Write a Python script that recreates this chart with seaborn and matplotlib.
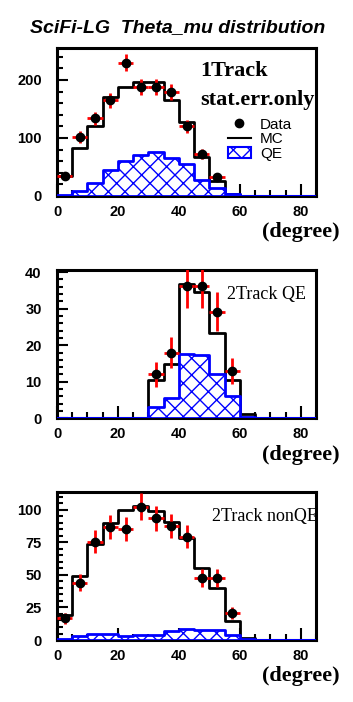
import numpy as np
import pandas as pd
import seaborn as sns
import matplotlib.pyplot as plt
from matplotlib.lines import Line2D
from matplotlib.patches import Patch
from matplotlib.ticker import MultipleLocator

# bins of theta_mu (degree)
edges = np.arange(0, 90, 5)
centers = edges[:-1] + 2.5

# 1 Track
data1 = [35, 102, 134, 165, 230, 188, 188, 179, 120, 72, 32]
mc1 = [34, 82, 121, 170, 188, 197, 196, 165, 127, 68, 25, 4, 0, 0, 0, 0, 0]
qe1 = [1, 9, 23, 45, 61, 71, 76, 66, 55, 28, 13, 3, 0, 0, 0, 0, 0]

# 2 Track QE
data2 = [12, 18, 36.2, 36.2, 29.2, 13]
data2_x = [32.5, 37.5, 42.5, 47.5, 52.5, 57.5]
mc2 = [0, 0, 0, 0, 0, 0, 10.5, 14.8, 36.7, 34.5, 23.4, 10.5, 1.2, 0, 0, 0, 0]
qe2 = [0, 0, 0, 0, 0, 0, 3.2, 5.6, 17.6, 17.3, 12.1, 6.2, 0.3, 0, 0, 0, 0]

# 2 Track nonQE
data3 = [16.7, 44, 75.6, 87, 85.4, 102.5, 93.6, 87.7, 79.5, 47.4, 47.4, 20.5]
mc3 = [19.2, 49.2, 73.6, 89.7, 100, 103.3, 99.5, 91, 78.2, 55.6, 39.7, 14.9, 1.5, 0, 0, 0, 0]
qe3 = [1, 3.3, 4.6, 4.6, 3, 3.8, 3.8, 6.9, 8.5, 7.4, 7.4, 4, 0.5, 0, 0, 0, 0]

plt.rcParams['hatch.color'] = 'blue'
plt.rcParams['hatch.linewidth'] = 1.0
plt.rcParams['font.family'] = ['Liberation Sans', 'DejaVu Sans']

fig = plt.figure(figsize=(3.53, 7.02), dpi=100)

panels = [
    dict(rect=[0.1615, 0.7208, 0.7337, 0.2108], data=data1, dx=centers[:len(data1)],
         mc=mc1, qe=qe1, ymax=255, major=100, minor=20),
    dict(rect=[0.1615, 0.4041, 0.7337, 0.2113], data=data2, dx=data2_x,
         mc=mc2, qe=qe2, ymax=40.6, major=10, minor=2),
    dict(rect=[0.1615, 0.0883, 0.7337, 0.2113], data=data3, dx=centers[:len(data3)],
         mc=mc3, qe=qe3, ymax=114, major=25, minor=5),
]

axes = []
for p in panels:
    ax = fig.add_axes(p['rect'])
    hist = pd.DataFrame({'theta': centers, 'mc': p['mc'], 'qe': p['qe']})
    sns.histplot(data=hist, x='theta', weights='mc', binwidth=5, binrange=(0, 85),
                 element='step', fill=False, color='black', linewidth=2, ax=ax, zorder=2)
    sns.histplot(data=hist, x='theta', weights='qe', binwidth=5, binrange=(0, 85),
                 element='step', fill=True, color='blue', facecolor='white', hatch='xx',
                 alpha=1, linewidth=2, ax=ax, zorder=3)
    d = np.array(p['data'])
    ax.errorbar(p['dx'], d, yerr=np.sqrt(d), xerr=2.5, fmt='none', ecolor='red',
                elinewidth=2, capsize=0, zorder=4)
    ax.plot(p['dx'], d, 'o', color='black', markersize=6, zorder=5)
    ax.set_xlim(0, 85)
    ax.set_ylim(0, p['ymax'])
    ax.set_xlabel('')
    ax.set_ylabel('')
    ax.xaxis.set_major_locator(MultipleLocator(20))
    ax.xaxis.set_minor_locator(MultipleLocator(5))
    ax.yaxis.set_major_locator(MultipleLocator(p['major']))
    ax.yaxis.set_minor_locator(MultipleLocator(p['minor']))
    ax.tick_params(axis='both', which='both', direction='in', width=1.5,
                   right=False, top=False)
    ax.tick_params(axis='x', which='major', length=9, pad=6.5)
    ax.tick_params(axis='x', which='minor', length=4.5)
    ax.tick_params(axis='y', which='major', length=8, pad=11)
    ax.tick_params(axis='y', which='minor', length=4.5)
    for lab in ax.get_xticklabels() + ax.get_yticklabels():
        lab.set_fontweight('bold')
        lab.set_fontsize(10.5)
    for s in ax.spines.values():
        s.set_linewidth(2.2)
    ax.text(1.09, -0.245, '(degree)', transform=ax.transAxes, ha='right', va='center',
            family='Liberation Serif', fontweight='bold', fontsize=16)
    axes.append(ax)

fig.text(0.504, 0.961, 'SciFi-LG  Theta_mu distribution', ha='center', va='center',
         fontsize=14, fontweight='bold', fontstyle='italic')

ax1 = axes[0]
ax1.text(0.553, 0.845, '1Track', transform=ax1.transAxes, ha='left', va='center',
         family='Liberation Serif', fontweight='bold', fontsize=16)
ax1.text(0.553, 0.65, 'stat.err.only', transform=ax1.transAxes, ha='left', va='center',
         family='Liberation Serif', fontweight='bold', fontsize=16)
handles = [
    Line2D([], [], marker='o', color='black', linestyle='none', markersize=6),
    Line2D([], [], color='black', linewidth=1.5),
    Patch(facecolor='white', edgecolor='blue', hatch='xx', linewidth=1.5),
]
ax1.legend(handles, ['Data', 'MC', 'QE'], loc='upper left', bbox_to_anchor=(0.66, 0.53),
           frameon=False, fontsize=11, handlelength=1.5, handletextpad=0.6,
           labelspacing=0.05, borderpad=0, borderaxespad=0)

axes[1].text(0.655, 0.833, '2Track QE', transform=axes[1].transAxes, ha='left', va='center',
             family='Liberation Serif', fontsize=13)
axes[2].text(0.6, 0.831, '2Track nonQE', transform=axes[2].transAxes, ha='left', va='center',
             family='Liberation Serif', fontsize=13)

fig.savefig('out.png', dpi=100)
